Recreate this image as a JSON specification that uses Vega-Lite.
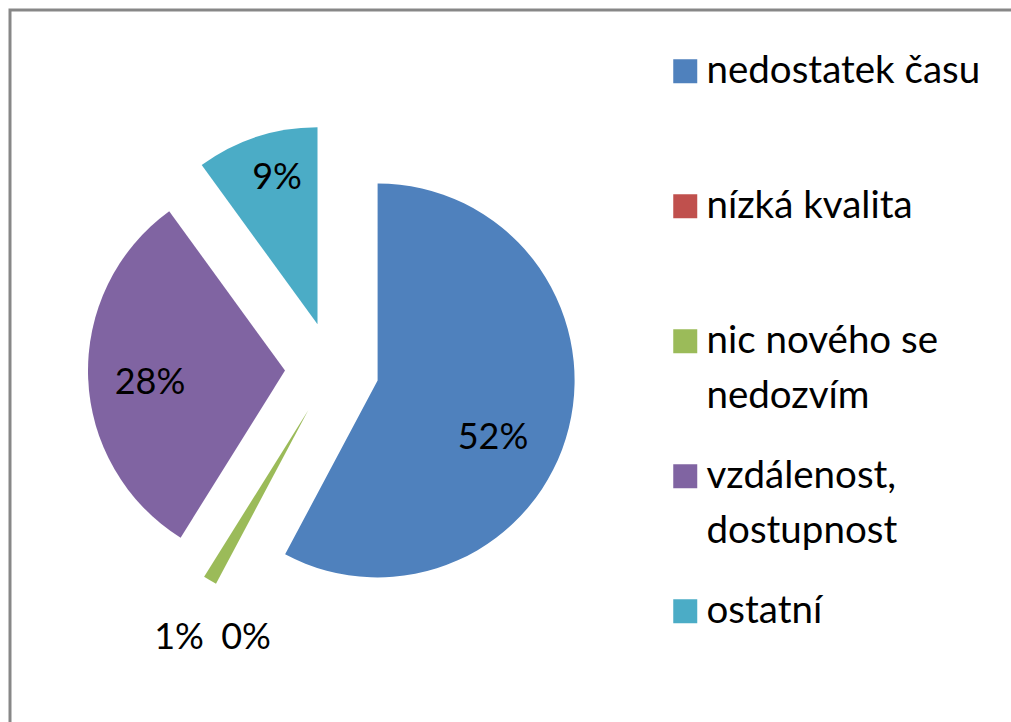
{
  "$schema": "https://vega.github.io/schema/vega-lite/v6.json",
  "width": 1001,
  "height": 712,
  "autosize": {"type": "none"},
  "padding": {"left": 10, "top": 10, "right": 0, "bottom": 0},
  "background": "white",
  "view": {"stroke": "#878787", "strokeWidth": 3, "strokeDash": [1001, 1713, 712]},
  "config": {
    "font": "Lato"
  },
  "data": {
    "values": [
      {"kategorie": "nedostatek času", "hodnota": 0.52, "poradi": 1},
      {"kategorie": "nízká kvalita", "hodnota": 0, "poradi": 2},
      {"kategorie": "nic nového se nedozvím", "hodnota": 0.01, "poradi": 3},
      {"kategorie": "vzdálenost, dostupnost", "hodnota": 0.28, "poradi": 4},
      {"kategorie": "ostatní", "hodnota": 0.09, "poradi": 5}
    ]
  },
  "layer": [
    {
      "transform": [
        {"stack": "hodnota", "groupby": [], "sort": [{"field": "poradi", "order": "ascending"}], "as": ["zacatek", "konec"]},
        {"filter": "datum.kategorie == 'nedostatek času'"}
      ],
      "mark": {"type": "arc", "radius": 197, "x": 322, "xOffset": 45.6, "yOffset": 14.4},
      "encoding": {
        "theta": {"field": "zacatek", "type": "quantitative", "stack": null, "scale": {"nice": false, "zero": true}},
        "theta2": {"field": "konec"},
        "color": {
          "field": "kategorie", "type": "nominal",
          "scale": {"domain": ["nedostatek času", "nízká kvalita", "nic nového se nedozvím", "vzdálenost, dostupnost", "ostatní"], "range": ["#4F81BD", "#C0504D", "#9BBB59", "#8064A2", "#4BACC6"]},
          "legend": {"title": null, "orient": "none", "legendX": 656, "legendY": 42, "padding": 0, "symbolType": "square", "symbolSize": 576, "symbolStrokeWidth": 0, "labelFont": "Lato", "labelFontSize": 38.5, "labelColor": "black", "labelOffset": 2, "labelLimit": 400, "rowPadding": 41, "gridAlign": "all", "labelExpr": "datum.label == 'nic nového se nedozvím' ? ['nic nového se', 'nedozvím'] : datum.label == 'vzdálenost, dostupnost' ? ['vzdálenost,', 'dostupnost'] : datum.label", "encode": {"labels": {"update": {"lineHeight": {"value": 55}}}}}
        }
      }
    },
    {
      "transform": [
        {"stack": "hodnota", "groupby": [], "sort": [{"field": "poradi", "order": "ascending"}], "as": ["zacatek", "konec"]},
        {"filter": "datum.kategorie == 'nic nového se nedozvím'"}
      ],
      "mark": {"type": "arc", "radius": 197, "x": 322, "xOffset": -23.5, "yOffset": 43.7},
      "encoding": {
        "theta": {"field": "zacatek", "type": "quantitative", "stack": null},
        "theta2": {"field": "konec"},
        "color": {
          "field": "kategorie", "type": "nominal",
          "scale": {"domain": ["nedostatek času", "nízká kvalita", "nic nového se nedozvím", "vzdálenost, dostupnost", "ostatní"], "range": ["#4F81BD", "#C0504D", "#9BBB59", "#8064A2", "#4BACC6"]},
          "legend": {"title": null, "orient": "none", "legendX": 656, "legendY": 42, "padding": 0, "symbolType": "square", "symbolSize": 576, "symbolStrokeWidth": 0, "labelFont": "Lato", "labelFontSize": 38.5, "labelColor": "black", "labelOffset": 2, "labelLimit": 400, "rowPadding": 41, "gridAlign": "all", "labelExpr": "datum.label == 'nic nového se nedozvím' ? ['nic nového se', 'nedozvím'] : datum.label == 'vzdálenost, dostupnost' ? ['vzdálenost,', 'dostupnost'] : datum.label", "encode": {"labels": {"update": {"lineHeight": {"value": 55}}}}}
        }
      }
    },
    {
      "transform": [
        {"stack": "hodnota", "groupby": [], "sort": [{"field": "poradi", "order": "ascending"}], "as": ["zacatek", "konec"]},
        {"filter": "datum.kategorie == 'vzdálenost, dostupnost'"}
      ],
      "mark": {"type": "arc", "radius": 197, "x": 322, "xOffset": -47, "yOffset": 4.6},
      "encoding": {
        "theta": {"field": "zacatek", "type": "quantitative", "stack": null},
        "theta2": {"field": "konec"},
        "color": {
          "field": "kategorie", "type": "nominal",
          "scale": {"domain": ["nedostatek času", "nízká kvalita", "nic nového se nedozvím", "vzdálenost, dostupnost", "ostatní"], "range": ["#4F81BD", "#C0504D", "#9BBB59", "#8064A2", "#4BACC6"]},
          "legend": {"title": null, "orient": "none", "legendX": 656, "legendY": 42, "padding": 0, "symbolType": "square", "symbolSize": 576, "symbolStrokeWidth": 0, "labelFont": "Lato", "labelFontSize": 38.5, "labelColor": "black", "labelOffset": 2, "labelLimit": 400, "rowPadding": 41, "gridAlign": "all", "labelExpr": "datum.label == 'nic nového se nedozvím' ? ['nic nového se', 'nedozvím'] : datum.label == 'vzdálenost, dostupnost' ? ['vzdálenost,', 'dostupnost'] : datum.label", "encode": {"labels": {"update": {"lineHeight": {"value": 55}}}}}
        }
      }
    },
    {
      "transform": [
        {"stack": "hodnota", "groupby": [], "sort": [{"field": "poradi", "order": "ascending"}], "as": ["zacatek", "konec"]},
        {"filter": "datum.kategorie == 'ostatní'"}
      ],
      "mark": {"type": "arc", "radius": 197, "x": 322, "xOffset": -14.5, "yOffset": -41.7},
      "encoding": {
        "theta": {"field": "zacatek", "type": "quantitative", "stack": null},
        "theta2": {"field": "konec"},
        "color": {
          "field": "kategorie", "type": "nominal",
          "scale": {"domain": ["nedostatek času", "nízká kvalita", "nic nového se nedozvím", "vzdálenost, dostupnost", "ostatní"], "range": ["#4F81BD", "#C0504D", "#9BBB59", "#8064A2", "#4BACC6"]},
          "legend": {"title": null, "orient": "none", "legendX": 656, "legendY": 42, "padding": 0, "symbolType": "square", "symbolSize": 576, "symbolStrokeWidth": 0, "labelFont": "Lato", "labelFontSize": 38.5, "labelColor": "black", "labelOffset": 2, "labelLimit": 400, "rowPadding": 41, "gridAlign": "all", "labelExpr": "datum.label == 'nic nového se nedozvím' ? ['nic nového se', 'nedozvím'] : datum.label == 'vzdálenost, dostupnost' ? ['vzdálenost,', 'dostupnost'] : datum.label", "encode": {"labels": {"update": {"lineHeight": {"value": 55}}}}}
        }
      }
    },
    {
      "mark": {"type": "text", "radius": 130, "x": 322, "xOffset": 34.9, "yOffset": 40.6, "fontSize": 36, "font": "Lato", "color": "black"},
      "encoding": {
        "theta": {"field": "hodnota", "type": "quantitative", "stack": true},
        "order": {"field": "poradi", "type": "quantitative"},
        "detail": {"field": "kategorie", "type": "nominal"},
        "text": {"field": "hodnota", "type": "quantitative", "format": ".0%"},
        "opacity": {"condition": {"test": "datum.kategorie == 'nedostatek času'", "value": 1}, "value": 0}
      }
    },
    {
      "mark": {"type": "text", "radius": 250, "x": 322, "xOffset": 31.4, "yOffset": 51.3, "fontSize": 36, "font": "Lato", "color": "black"},
      "encoding": {
        "theta": {"field": "hodnota", "type": "quantitative", "stack": true},
        "order": {"field": "poradi", "type": "quantitative"},
        "detail": {"field": "kategorie", "type": "nominal"},
        "text": {"field": "hodnota", "type": "quantitative", "format": ".0%"},
        "opacity": {"condition": {"test": "datum.kategorie == 'nízká kvalita'", "value": 1}, "value": 0}
      }
    },
    {
      "mark": {"type": "text", "radius": 250, "x": 322, "xOffset": -28, "yOffset": 55.5, "fontSize": 36, "font": "Lato", "color": "black"},
      "encoding": {
        "theta": {"field": "hodnota", "type": "quantitative", "stack": true},
        "order": {"field": "poradi", "type": "quantitative"},
        "detail": {"field": "kategorie", "type": "nominal"},
        "text": {"field": "hodnota", "type": "quantitative", "format": ".0%"},
        "opacity": {"condition": {"test": "datum.kategorie == 'nic nového se nedozvím'", "value": 1}, "value": 0}
      }
    },
    {
      "mark": {"type": "text", "radius": 130, "x": 322, "xOffset": -52.1, "yOffset": 12.5, "fontSize": 36, "font": "Lato", "color": "black"},
      "encoding": {
        "theta": {"field": "hodnota", "type": "quantitative", "stack": true},
        "order": {"field": "poradi", "type": "quantitative"},
        "detail": {"field": "kategorie", "type": "nominal"},
        "text": {"field": "hodnota", "type": "quantitative", "format": ".0%"},
        "opacity": {"condition": {"test": "datum.kategorie == 'vzdálenost, dostupnost'", "value": 1}, "value": 0}
      }
    },
    {
      "mark": {"type": "text", "radius": 130, "x": 322, "xOffset": -14.8, "yOffset": -64.4, "fontSize": 36, "font": "Lato", "color": "black"},
      "encoding": {
        "theta": {"field": "hodnota", "type": "quantitative", "stack": true},
        "order": {"field": "poradi", "type": "quantitative"},
        "detail": {"field": "kategorie", "type": "nominal"},
        "text": {"field": "hodnota", "type": "quantitative", "format": ".0%"},
        "opacity": {"condition": {"test": "datum.kategorie == 'ostatní'", "value": 1}, "value": 0}
      }
    }
  ]
}
